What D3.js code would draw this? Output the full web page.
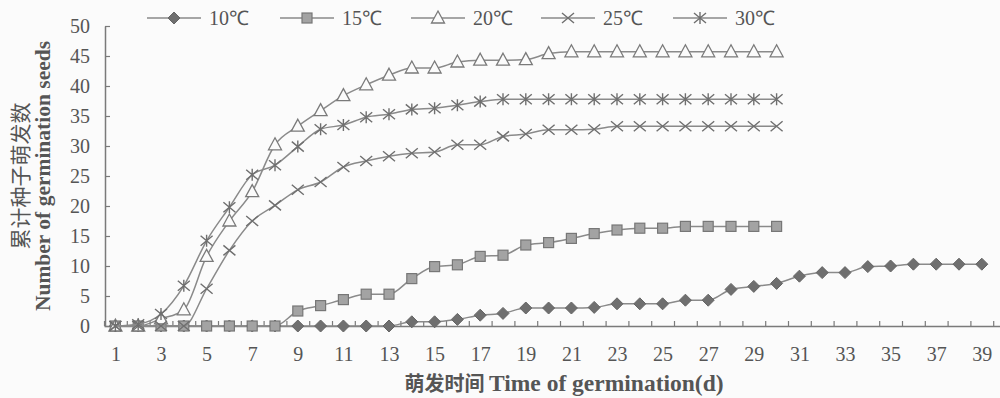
<!DOCTYPE html>
<html><head><meta charset="utf-8">
<script src="https://cdn.jsdelivr.net/npm/d3@7"></script>
<style>
html,body{margin:0;padding:0;background:#fbfbfb;}
svg{display:block;}
</style></head>
<body>
<svg id="chart" width="1000" height="398"></svg>
<script>
// ---- data ----
const days10 = d3.range(1, 40);   // 1..39
const days = d3.range(1, 31);     // 1..30
const t10 = [0,0,0,0,0,0,0,0,0,0,0,0,0,0.7,0.7,1.1,1.8,2.1,3,3,3,3.1,3.7,3.7,3.7,4.3,4.3,6.1,6.6,7.1,8.3,8.9,8.9,9.9,10,10.3,10.3,10.3,10.3];
const t15 = [0,0,0,0,0,0,0,0,2.5,3.4,4.4,5.3,5.3,7.9,9.9,10.2,11.6,11.8,13.5,13.9,14.6,15.4,16,16.3,16.3,16.6,16.6,16.6,16.6,16.6];
const t20 = [0,0,1.2,2.7,11.6,17.5,22.4,30.2,33.3,35.9,38.4,40.2,41.8,43,43,44,44.3,44.3,44.4,45.4,45.7,45.7,45.7,45.7,45.7,45.7,45.7,45.7,45.7,45.7];
const t25 = [0,0,0,0,6.2,12.6,17.5,20.1,22.7,24,26.5,27.5,28.3,28.8,29,30.2,30.2,31.6,32,32.7,32.7,32.8,33.3,33.3,33.3,33.3,33.3,33.3,33.3,33.3];
const t30 = [0,0.3,2,6.7,14.2,19.8,25.2,26.8,29.9,32.8,33.5,34.8,35.3,36.1,36.3,36.8,37.4,37.8,37.8,37.8,37.8,37.8,37.8,37.8,37.8,37.8,37.8,37.8,37.8,37.8];
const seriesNames = ["10℃","15℃","20℃","25℃","30℃"];
const markerTypes = ["diamond","square","triangle","cross","star"];
const yTicks = d3.range(0, 51, 5);
const xLabelDays = d3.range(1, 40, 2);
const yTitleCN = "累计种子萌发数";
const yTitleEN = "Number of germination seeds";
const xTitleCN = "萌发时间";
const xTitleEN = "Time of germination(d)";

const series = [
  {name: seriesNames[0], marker: markerTypes[0], x: days10, y: t10},
  {name: seriesNames[1], marker: markerTypes[1], x: days, y: t15},
  {name: seriesNames[2], marker: markerTypes[2], x: days, y: t20},
  {name: seriesNames[3], marker: markerTypes[3], x: days, y: t25},
  {name: seriesNames[4], marker: markerTypes[4], x: days, y: t30}
];

// ---- layout ----
const svg = d3.select("#chart");
const serif = "'Liberation Serif','Times New Roman',serif";
const cjk = "'Noto Sans CJK SC',sans-serif";
const textCol = "#555";
const lineCol = "#8a8a8a";
const axisCol = "#7a7a7a";

const x = d3.scaleLinear().domain([0.5, 40.5]).range([104, 1016]);
const y = d3.scaleLinear().domain([0, 50]).range([326, 26]);

// axes
const gx = svg.append("g").attr("transform", `translate(0,${y(0)})`)
  .call(d3.axisBottom(x).tickValues(d3.range(0.5, 41, 1)).tickSizeInner(-5).tickSizeOuter(0).tickFormat(""));
gx.select(".domain").attr("stroke", axisCol).attr("stroke-width", 1.5);
gx.selectAll(".tick line").attr("stroke", axisCol).attr("stroke-width", 1.2);

const gxl = svg.append("g").attr("transform", `translate(0,${y(0)})`)
  .call(d3.axisBottom(x).tickValues(xLabelDays).tickSize(0).tickPadding(21).tickFormat(d3.format("d")));
gxl.select(".domain").remove();
gxl.selectAll("text").attr("font-family", serif).attr("font-size", 20).attr("fill", textCol);

const gy = svg.append("g").attr("transform", `translate(${x(0.5)+1},0)`)
  .call(d3.axisLeft(y).tickValues(yTicks).tickSizeInner(-5).tickSizeOuter(0).tickPadding(15));
gy.select(".domain").attr("stroke", axisCol).attr("stroke-width", 1.5);
gy.selectAll(".tick line").attr("stroke", axisCol).attr("stroke-width", 1.2);
gy.selectAll("text").attr("font-family", serif).attr("font-size", 20).attr("fill", textCol);

// titles
svg.append("text")
  .attr("transform", "translate(28,176) rotate(-90)")
  .attr("text-anchor", "middle")
  .attr("font-family", cjk).attr("font-size", 21).attr("fill", textCol)
  .text(yTitleCN);
svg.append("text")
  .attr("transform", "translate(50,176) rotate(-90)")
  .attr("text-anchor", "middle")
  .attr("font-family", serif).attr("font-size", 21.5).attr("font-weight", "bold").attr("fill", textCol)
  .text(yTitleEN);

const xt = svg.append("text")
  .attr("x", 564).attr("y", 391)
  .attr("text-anchor", "middle").attr("fill", textCol);
xt.append("tspan").attr("font-family", cjk).attr("font-size", 20).attr("font-weight", "bold").text(xTitleCN + " ");
xt.append("tspan").attr("font-family", serif).attr("font-size", 23.5).attr("font-weight", "bold").text(xTitleEN);

// markers
function drawMarker(g, type, cx, cy) {
  if (type === "diamond") {
    g.append("path").attr("d", `M${cx},${cy-6}L${cx+6},${cy}L${cx},${cy+6}L${cx-6},${cy}Z`)
      .attr("fill", "#6f6f6f").attr("stroke", "#666").attr("stroke-width", 1);
  } else if (type === "square") {
    g.append("rect").attr("x", cx-5).attr("y", cy-5).attr("width", 10).attr("height", 10)
      .attr("fill", "#a3a3a3").attr("stroke", "#777").attr("stroke-width", 1.2);
  } else if (type === "triangle") {
    g.append("path").attr("d", `M${cx},${cy-7}L${cx+6.5},${cy+5}L${cx-6.5},${cy+5}Z`)
      .attr("fill", "#fbfbfb").attr("stroke", "#7a7a7a").attr("stroke-width", 1.3);
  } else if (type === "cross") {
    g.append("path").attr("d", `M${cx-6},${cy-5}L${cx+6},${cy+5}M${cx-6},${cy+5}L${cx+6},${cy-5}`)
      .attr("stroke", "#6f6f6f").attr("stroke-width", 1.4).attr("fill", "none");
  } else if (type === "star") {
    g.append("path").attr("d", `M${cx-6},${cy-5}L${cx+6},${cy+5}M${cx-6},${cy+5}L${cx+6},${cy-5}M${cx},${cy-6}L${cx},${cy+6}`)
      .attr("stroke", "#6f6f6f").attr("stroke-width", 1.4).attr("fill", "none");
  }
}

const line = d3.line().x(d => x(d[0])).y(d => y(d[1])).curve(d3.curveMonotoneX);
series.forEach(s => {
  const pts = s.x.map((d, i) => [d, s.y[i]]);
  const g = svg.append("g");
  g.append("path").attr("d", line(pts)).attr("fill", "none")
    .attr("stroke", lineCol).attr("stroke-width", 1.5);
  pts.forEach(p => drawMarker(g, s.marker, x(p[0]), y(p[1])));
});

// legend
const legendX = [147, 280, 411, 541, 673];
series.forEach((s, i) => {
  const g = svg.append("g");
  const lx = legendX[i], ly = 18;
  g.append("line").attr("x1", lx).attr("x2", lx + 54).attr("y1", ly).attr("y2", ly)
    .attr("stroke", lineCol).attr("stroke-width", 1.5);
  drawMarker(g, s.marker, lx + 27, ly);
  g.append("text").attr("x", lx + 62).attr("y", ly + 7)
    .attr("font-family", serif).attr("font-size", 20).attr("fill", textCol)
    .text(s.name);
});
</script>
</body></html>
